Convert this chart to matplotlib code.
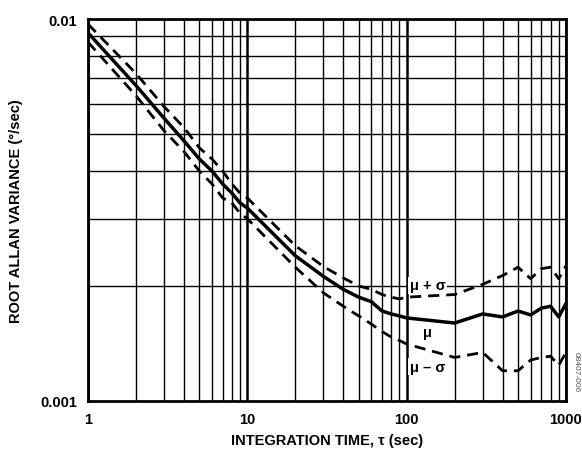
import numpy as np
import matplotlib
matplotlib.use("Agg")
import matplotlib.pyplot as plt
from matplotlib.ticker import LogLocator, NullFormatter, FixedLocator

plt.rcParams["font.family"] = ["Liberation Sans", "DejaVu Sans"]
plt.rcParams["font.weight"] = "bold"
plt.rcParams["axes.labelweight"] = "bold"

# integration time (sec)
tau = [1, 2, 3, 4, 5, 6, 7, 8, 9, 10, 20, 30, 40, 50, 60, 70, 80, 90, 100,
       200, 300, 400, 500, 600, 700, 800, 900, 1000]
# mean root Allan variance (°/sec)
mu = [0.0092, 0.0067, 0.0055, 0.0048, 0.0043, 0.0040, 0.0037, 0.0035, 0.0033, 0.0032,
      0.0024, 0.00212, 0.00196, 0.00187, 0.00182, 0.00172, 0.00169, 0.00167, 0.00165,
      0.00160, 0.00169, 0.00166, 0.00172, 0.00168, 0.00175, 0.00177, 0.00166, 0.00180]
# mu + sigma
mu_plus = [0.0097, 0.0072, 0.0059, 0.0052, 0.0046, 0.0043, 0.0040, 0.0037, 0.0035, 0.0034,
           0.00255, 0.00225, 0.00210, 0.00200, 0.00196, 0.00190, 0.00187, 0.00185, 0.00187,
           0.00190, 0.00202, 0.00213, 0.00224, 0.00209, 0.00222, 0.00224, 0.00209, 0.00226]
# mu - sigma
mu_minus = [0.0087, 0.0063, 0.0051, 0.0045, 0.0040, 0.0037, 0.0034, 0.0033, 0.0031, 0.0030,
            0.00224, 0.00192, 0.00177, 0.00167, 0.00159, 0.00152, 0.00147, 0.00144, 0.00141,
            0.00130, 0.00134, 0.00120, 0.00120, 0.00128, 0.00130, 0.00131, 0.00124, 0.00134]

fig = plt.figure(figsize=(5.82, 4.52), dpi=100)
ax = fig.add_axes([88 / 582, 1 - 402 / 452, (566 - 88) / 582, (402 - 20) / 452])

ax.set_xscale("log")
ax.set_yscale("log")
ax.set_xlim(1, 1000)
ax.set_ylim(0.001, 0.01)

# grid
ax.xaxis.set_minor_locator(LogLocator(base=10, subs=np.arange(2, 10)))
ax.yaxis.set_minor_locator(FixedLocator([0.002, 0.003, 0.004, 0.005, 0.006, 0.007, 0.008, 0.009]))
ax.xaxis.set_minor_formatter(NullFormatter())
ax.yaxis.set_minor_formatter(NullFormatter())
ax.grid(True, which="major", axis="x", color="black", linewidth=1.8)
ax.grid(True, which="minor", axis="both", color="black", linewidth=1.0)
ax.tick_params(which="both", length=0, labelsize=10.5, pad=8)

ax.set_xticks([1, 10, 100, 1000])
ax.set_xticklabels(["1", "10", "100", "1000"], fontweight="bold")
ax.set_yticks([0.001, 0.01])
ax.set_yticklabels(["0.001", "0.01"], fontweight="bold")

for s in ax.spines.values():
    s.set_linewidth(2)

ax.plot(tau, mu, color="black", linewidth=2.5)
ax.plot(tau, mu_plus, color="black", linewidth=2, linestyle=(0, (4, 2.5)))
ax.plot(tau, mu_minus, color="black", linewidth=2, linestyle=(0, (4, 2.5)))

bbox = dict(facecolor="white", edgecolor="none", pad=1)
ax.text(135, 0.00201, "μ + σ", fontsize=10.5, fontweight="bold", ha="center", va="center", bbox=bbox)
ax.text(135, 0.00152, "μ", fontsize=10.5, fontweight="bold", ha="center", va="center", bbox=bbox)
ax.text(135, 0.00123, "μ – σ", fontsize=10.5, fontweight="bold", ha="center", va="center", bbox=bbox)

ax.set_xlabel("INTEGRATION TIME, τ (sec)", fontsize=10.5, fontweight="bold", labelpad=5)
ax.set_ylabel("ROOT ALLAN VARIANCE (°/sec)", fontsize=10.5, fontweight="bold", labelpad=12)

fig.text(576 / 582, 1 - 372 / 452, "08407-006", fontsize=6, color="#555555",
         rotation=270, ha="center", va="center", fontweight="normal")

fig.savefig("out.png", dpi=100)
